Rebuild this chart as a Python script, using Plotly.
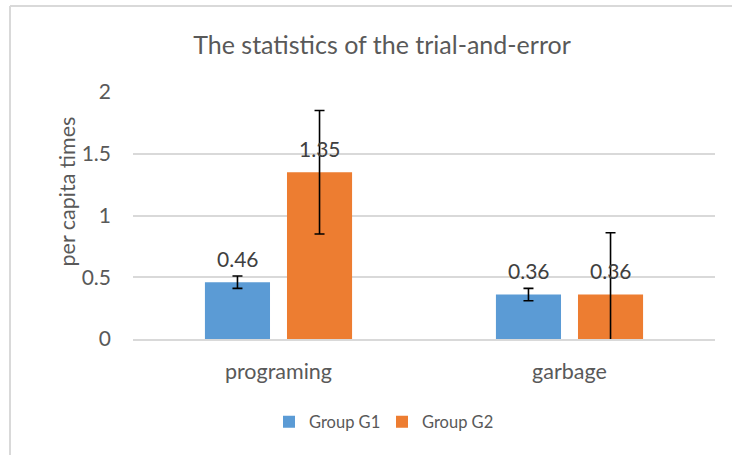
import plotly.graph_objects as go

categories = ["programing", "garbage"]
g1_values = [0.46, 0.36]
g2_values = [1.35, 0.36]
g1_errors = [0.05, 0.05]
g2_errors = [0.5, 0.5]
series_names = ["Group G1", "Group G2"]
y_ticks = [0, 0.5, 1, 1.5, 2]
y_ticklabels = ["0", "0.5", "1", "1.5", "2"]

W, H = 732, 455
L, R, T, B = 133, 17, 92, 116
PW, PH = W - L - R, H - T - B

def px_x(px):
    return (px - L) / PW

def px_y(py):
    return (H - B - py) / PH

FONT = "Lato, Open Sans, sans-serif"
GRAY = "#595959"
BLUE = "#5B9BD5"
ORANGE = "#ED7D31"

fig = go.Figure()
for name, vals, errs, color in [
    (series_names[0], g1_values, g1_errors, BLUE),
    (series_names[1], g2_values, g2_errors, ORANGE),
]:
    fig.add_trace(go.Bar(
        x=categories, y=vals, name=name,
        marker=dict(color=color, line=dict(color=color, width=0)),
        error_y=dict(type="data", array=errs, visible=True,
                     color="black", thickness=1.6, width=5),
    ))

# data labels
for vals, shift in [(g1_values, -41), (g2_values, 41)]:
    for c, v in zip(categories, vals):
        fig.add_annotation(x=c, y=v, text=f"{v:g}", showarrow=False,
                           xshift=shift, yshift=24, yanchor="middle",
                           font=dict(family=FONT, size=21, color="#404040"))

# y-axis title
fig.add_annotation(xref="paper", yref="paper", x=px_x(66), y=px_y(191.5),
                   text="per capita times", textangle=-90, showarrow=False,
                   xanchor="center", yanchor="middle",
                   font=dict(family=FONT, size=21.5, color=GRAY))

# chart border (cropped Excel frame)
border = dict(color="#D9D9D9", width=2)
fig.add_shape(type="line", xref="paper", yref="paper",
              x0=px_x(10), x1=px_x(10), y0=px_y(6), y1=px_y(460), line=border)
fig.add_shape(type="line", xref="paper", yref="paper",
              x0=px_x(10), x1=px_x(740), y0=px_y(6), y1=px_y(6), line=border)

fig.update_layout(
    width=W, height=H,
    margin=dict(l=L, r=R, t=T, b=B),
    paper_bgcolor="white", plot_bgcolor="white",
    barmode="group", bargap=0.436, bargroupgap=0.207,
    title=dict(text="The statistics of the trial-and-error",
               x=382 / W, xanchor="center", y=1 - 45 / H, yanchor="middle",
               xref="container", yref="container",
               font=dict(family=FONT, size=25, color=GRAY)),
    legend=dict(orientation="h", x=px_x(382), y=px_y(422),
                xanchor="center", yanchor="middle",
                font=dict(family=FONT, size=16.5, color=GRAY),
                itemwidth=30, entrywidth=68, entrywidthmode="pixels",
                traceorder="normal"),
    showlegend=True,
)
fig.update_yaxes(range=[0, 2], tickvals=y_ticks, ticktext=y_ticklabels,
                 showgrid=True, gridcolor="#D9D9D9", gridwidth=1.5,
                 zeroline=False, showline=False, ticks="",
                 ticklabelstandoff=21,
                 tickfont=dict(family=FONT, size=21, color=GRAY))
fig.update_xaxes(showgrid=False, showline=True, linecolor="#D9D9D9", linewidth=1.5,
                 ticks="", ticklabelstandoff=12,
                 tickfont=dict(family=FONT, size=21.5, color=GRAY))

fig.write_html("out.html", config={"displayModeBar": False},
               post_script="document.body.style.margin='0';document.body.style.overflow='hidden';")
